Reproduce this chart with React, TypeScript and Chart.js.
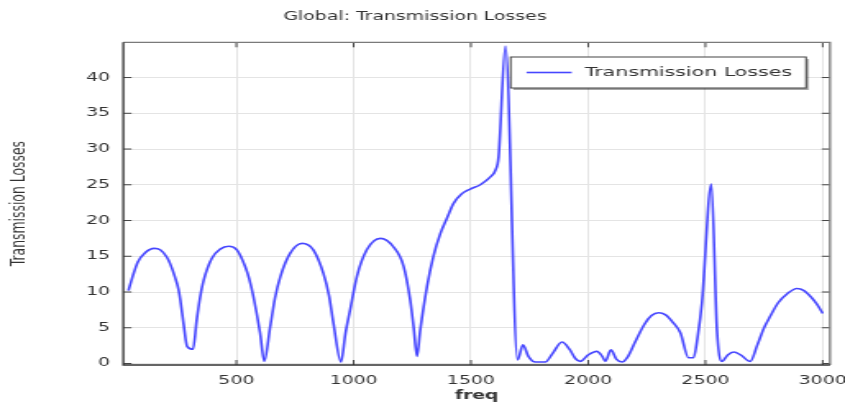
import React, { useEffect, useRef } from "react";
import { Chart, registerables } from "chart.js";

Chart.register(...registerables);

// ---- data ----
const freq = [
  40, 60, 80, 111, 150, 175, 203, 217, 239, 253, 261, 275, 290, 315, 331, 345, 361, 395, 431, 467,
  502, 537, 555, 573, 601, 619, 644, 665, 688, 729, 780, 828, 871, 895, 914, 946, 965, 985, 1014, 1056,
  1114, 1170, 1213, 1241, 1256, 1270, 1284, 1313, 1340, 1370, 1400, 1426, 1460, 1497, 1540, 1583, 1604, 1618, 1647, 1699,
  1722, 1745, 1775, 1817, 1850, 1888, 1920, 1945, 1966, 2000, 2037, 2060, 2073, 2097, 2120, 2144, 2170, 2200, 2240, 2270,
  2300, 2330, 2360, 2393, 2428, 2449, 2467, 2485, 2525, 2549, 2570, 2595, 2620, 2650, 2691, 2720, 2750, 2776, 2810, 2850,
  2890, 2920, 2950, 2975, 3000,
];
const losses = [
  10.2, 12.4, 14.2, 15.5, 16.1, 15.9, 14.9, 14.0, 12.0, 10.4, 8.9, 5.5, 2.4, 2.0, 6.1, 9.2, 11.7, 14.7, 16.0, 16.4,
  15.9, 13.6, 11.8, 9.3, 4.3, 0.3, 5.1, 9.2, 12.2, 15.4, 16.8, 15.9, 12.6, 9.5, 5.6, 0.2, 4.2, 7.5, 12.2, 15.9,
  17.5, 16.3, 13.6, 8.9, 5.0, 1.0, 4.7, 10.8, 15.0, 18.2, 20.5, 22.4, 23.7, 24.4, 25.0, 26.1, 27.0, 28.9, 44.4, 0.5,
  2.6, 1.0, 0.2, 0.2, 1.5, 3.0, 2.0, 0.7, 0.3, 1.2, 1.7, 1.0, 0.3, 1.9, 0.6, 0.2, 1.0, 3.0, 5.5, 6.7,
  7.1, 6.8, 5.8, 4.3, 0.8, 0.8, 3.8, 8.5, 25.1, 4.7, 0.3, 1.2, 1.6, 1.2, 0.3, 2.5, 5.0, 6.6, 8.5, 9.8,
  10.5, 10.2, 9.3, 8.3, 7.0,
];
const xTicks = [500, 1000, 1500, 2000, 2500, 3000];
const yTicks = [0, 5, 10, 15, 20, 25, 30, 35, 40];
const seriesLabel = "Transmission Losses";
const chartTitle = "Global: Transmission Losses";
const xTitle = "freq";
const yTitle = "Transmission Losses";

// ---- style ----
const FONT = "'DejaVu Sans', sans-serif";
const LINE_COLOR = "rgb(70,70,255)";
const INNER_W = 515; // drawn width, stretched to 845 on screen like the reference
const OUT_W = 845;
const OUT_H = 403;

const frameTicksPlugin = {
  id: "frameTicks",
  afterDatasetsDraw(chart: any) {
    const { ctx, chartArea: a, scales } = chart;
    const x = scales.x;
    const y = scales.y;
    ctx.save();
    ctx.strokeStyle = "#444";
    ctx.lineWidth = 1;
    ctx.beginPath();
    for (const t of xTicks) {
      const px = x.getPixelForValue(t);
      ctx.moveTo(px, a.bottom);
      ctx.lineTo(px, a.bottom - 5);
      ctx.moveTo(px, a.top);
      ctx.lineTo(px, a.top + 5);
    }
    for (const t of yTicks) {
      const py = y.getPixelForValue(t);
      ctx.moveTo(a.left, py);
      ctx.lineTo(a.left + 5, py);
      ctx.moveTo(a.right, py);
      ctx.lineTo(a.right - 5, py);
    }
    ctx.stroke();
    ctx.lineWidth = 1.3;
    ctx.strokeStyle = "#7a7a7a";
    ctx.beginPath();
    ctx.moveTo(a.left, a.top);
    ctx.lineTo(a.right, a.top);
    ctx.lineTo(a.right, a.bottom);
    ctx.stroke();
    ctx.strokeStyle = "#333";
    ctx.beginPath();
    ctx.moveTo(a.left, a.top);
    ctx.lineTo(a.left, a.bottom);
    ctx.lineTo(a.right, a.bottom);
    ctx.stroke();
    ctx.restore();
  },
};

const legendBoxPlugin = {
  id: "legendBox",
  beforeDatasetsDraw(chart: any) {
    const { ctx, chartArea: a } = chart;
    ctx.save();
    ctx.font = `12.5px ${FONT}`;
    const tw = ctx.measureText(seriesLabel).width;
    const h = 31;
    const padL = 9.7;
    const lineLen = 27.5;
    const gap = 8;
    const padR = 8.5;
    const w = padL + lineLen + gap + tw + padR;
    const right = a.right - 14.6;
    const left = right - w;
    const top = a.top + 14.7;
    ctx.fillStyle = "rgba(0,0,0,0.35)";
    ctx.fillRect(left + 1.6, top + 2, w, h);
    ctx.fillStyle = "#fff";
    ctx.fillRect(left, top, w, h);
    ctx.strokeStyle = "#444";
    ctx.lineWidth = 1;
    ctx.strokeRect(left, top, w, h);
    ctx.strokeStyle = LINE_COLOR;
    ctx.lineWidth = 1.6;
    ctx.beginPath();
    ctx.moveTo(left + padL, top + h / 2);
    ctx.lineTo(left + padL + lineLen, top + h / 2);
    ctx.stroke();
    ctx.fillStyle = "#333";
    ctx.textAlign = "left";
    ctx.textBaseline = "middle";
    ctx.fillText(seriesLabel, left + padL + lineLen + gap, top + h / 2 + 0.5);
    ctx.restore();
  },
};

export default function App() {
  const ref = useRef<HTMLCanvasElement | null>(null);

  useEffect(() => {
    if (!ref.current) return;
    const points = freq.map((f, i) => ({ x: f, y: losses[i] }));
    const chart = new Chart(ref.current, {
      type: "line",
      data: {
        datasets: [
          {
            label: seriesLabel,
            data: points,
            borderColor: LINE_COLOR,
            backgroundColor: LINE_COLOR,
            borderWidth: 1.6,
            pointRadius: 0,
            fill: false,
            cubicInterpolationMode: "monotone",
          },
        ],
      },
      options: {
        responsive: false,
        devicePixelRatio: 1,
        animation: false,
        layout: { padding: { left: 0, right: INNER_W - 505.85, top: 0, bottom: 0 } },
        plugins: {
          legend: { display: false },
          tooltip: { enabled: false },
          title: {
            display: true,
            text: chartTitle,
            color: "#333",
            font: { family: FONT, size: 11.5, weight: "normal" },
            padding: { top: 10.1, bottom: 18.4 },
          },
        },
        scales: {
          x: {
            type: "linear",
            min: 18,
            max: 3031,
            afterBuildTicks: (s: any) => {
              s.ticks = xTicks.map((v) => ({ value: v }));
            },
            afterFit: (s: any) => {
              s.height = 38;
              s.paddingLeft = 0;
              s.paddingRight = 0;
            },
            grid: { color: "#e4e4e4", lineWidth: 1, drawTicks: false },
            border: { display: false },
            ticks: {
              color: "#333",
              padding: 9,
              maxRotation: 0,
              autoSkip: false,
              font: { family: FONT, size: 11.5 },
              callback: (v: any) => String(v),
            },
            title: {
              display: true,
              text: xTitle,
              color: "#333",
              font: { family: FONT, size: 11.5, weight: "bold" },
              padding: { top: 0, bottom: 0 },
            },
          },
          y: {
            type: "linear",
            min: -0.21,
            max: 44.93,
            afterBuildTicks: (s: any) => {
              s.ticks = yTicks.map((v) => ({ value: v }));
            },
            afterFit: (s: any) => {
              s.width = 75.15;
              s.paddingTop = 0;
              s.paddingBottom = 0;
            },
            grid: { color: "#e4e4e4", lineWidth: 1, drawTicks: false },
            border: { display: false },
            ticks: {
              color: "#333",
              padding: 8.1,
              autoSkip: false,
              font: { family: FONT, size: 11.5 },
              callback: (v: any) => String(v),
            },
            title: {
              display: true,
              text: yTitle,
              color: "#333",
              font: { family: FONT, size: 12.4, weight: "normal" },
              padding: { top: 4.8, bottom: 0 },
            },
          },
        },
      },
      plugins: [legendBoxPlugin, frameTicksPlugin],
    });
    return () => chart.destroy();
  }, []);

  return (
    <div style={{ position: "fixed", left: 0, top: 0, width: OUT_W, height: OUT_H, background: "#fff" }}>
      <canvas
        ref={ref}
        width={INNER_W}
        height={OUT_H}
        style={{ display: "block", width: `${OUT_W}px`, height: `${OUT_H}px` }}
      />
    </div>
  );
}
